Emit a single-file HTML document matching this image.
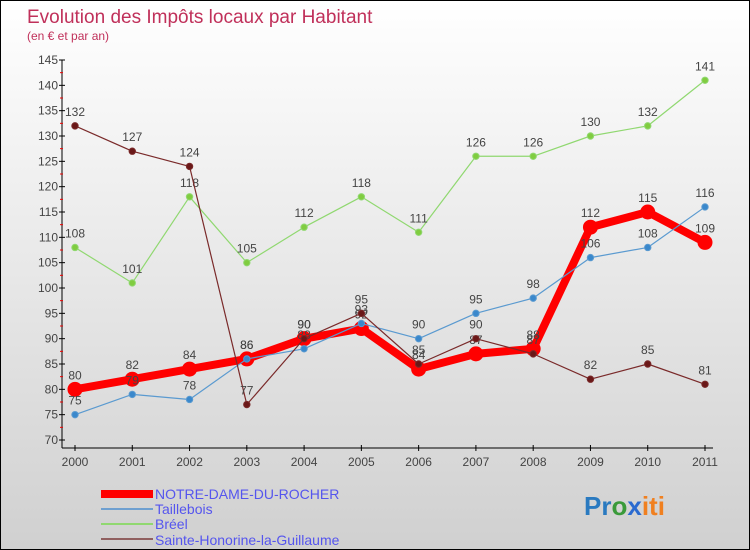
<!DOCTYPE html>
<html><head><meta charset="utf-8"><style>
html,body{margin:0;padding:0}
body{width:750px;height:550px;overflow:hidden;font-family:"Liberation Sans",sans-serif}
#wrap{position:relative;width:748px;height:548px;border:1px solid #000;background:linear-gradient(#ffffff,#d0d0d0)}
</style></head><body>
<div id="wrap">
<svg id="chart" width="748" height="548" style="position:absolute;left:0;top:0">
<text x="26" y="22" font-size="19" fill="#c0305a">Evolution des Impôts locaux par Habitant</text>
<text x="26" y="39" font-size="12" fill="#c0305a">(en € et par an)</text>
<g id="axes"></g><g id="series"></g>
<g>
<rect x="100" y="489" width="52" height="8" fill="#f00"/>
<text x="154" y="498" font-size="14" fill="#5555ee">NOTRE-DAME-DU-ROCHER</text>
<rect x="100" y="507" width="52" height="2" fill="#6fa0d0"/>
<text x="154" y="513" font-size="14" fill="#5555ee">Taillebois</text>
<rect x="100" y="522" width="52" height="2" fill="#90d870"/>
<text x="154" y="528" font-size="14" fill="#5555ee">Bréel</text>
<rect x="100" y="537" width="52" height="2" fill="#906060"/>
<text x="154" y="544" font-size="14" fill="#5555ee">Sainte-Honorine-la-Guillaume</text>
</g>
<text x="583" y="514" font-size="26" font-weight="bold"><tspan fill="#2a7ac0">Pr</tspan><tspan fill="#3a9a3a">o</tspan><tspan fill="#2a6ad0">x</tspan><tspan fill="#f08020">iti</tspan></text>
</svg>
</div>
<script>
const years=["2000","2001","2002","2003","2004","2005","2006","2007","2008","2009","2010","2011"];
const yTicks=[70,75,80,85,90,95,100,105,110,115,120,125,130,135,140,145];
const notreDame=[80,82,84,86,90,92,84,87,88,112,115,109];
const taillebois=[75,79,78,86,88,93,90,95,98,106,108,116];
const breel=[108,101,118,105,112,118,111,126,126,130,132,141];
const sainteHonorine=[132,127,124,77,90,95,85,90,87,82,85,81];
const NS="http://www.w3.org/2000/svg";
const xS=i=>74+i*(630/11);
const yS=v=>439-(v-70)*(380/75);
function mk(tag,attrs,parent){const e=document.createElementNS(NS,tag);for(const k in attrs)e.setAttribute(k,attrs[k]);parent.appendChild(e);return e;}
const ax=document.getElementById('axes');
let a=mk('line',{x1:61,y1:yS(145),x2:61,y2:yS(70)+8,stroke:'#000'},ax);


a=mk('line',{x1:61,y1:yS(70)+8,x2:712,y2:yS(70)+8,stroke:'#000'},ax);


yTicks.forEach(v=>{
 const y=yS(v);
 mk('line',{x1:58,y1:y,x2:64,y2:y,stroke:'#000'},ax);
 if(v<145){const m=mk('line',{x1:59,y1:y-2.5*380/75,x2:62,y2:y-2.5*380/75,stroke:'#e00'},ax);}
 const t=mk('text',{x:57,y:y+4,'font-size':12,fill:'#444','text-anchor':'end'},ax);
 t.textContent=v;
 
 
});
years.forEach((yr,i)=>{
 const x=xS(i);
 mk('line',{x1:x,y1:yS(70)+5,x2:x,y2:yS(70)+11,stroke:'#000'},ax);
 const t=mk('text',{x:x,y:465,'font-size':12,fill:'#444','text-anchor':'middle'},ax);
 t.textContent=yr;
 
 
});
const sg=document.getElementById('series');
function draw(data,color,width,r,dot,name){
 const g=mk('g',{},sg);
 
 
 const p=mk('polyline',{points:data.map((v,i)=>xS(i)+','+yS(v)).join(' '),fill:'none',stroke:color,'stroke-width':width,'stroke-linejoin':'round'},g);
 
 
 data.forEach((v,i)=>{
  const c=mk('circle',{cx:xS(i),cy:yS(v),r:r,fill:dot,stroke:color,'stroke-width':1},g);
  
  
  const t=mk('text',{x:xS(i),y:yS(v)-10,'font-size':12,fill:'#444','text-anchor':'middle'},g);
  t.textContent=v;
  
  
 });
}
draw(notreDame,'#f00',8,7,'#f00','notre-dame-series');
draw(taillebois,'#5a9ad0',1.2,3.2,'#3a88cc','taillebois-series');
draw(breel,'#90d870',1.2,3.2,'#80cc40','breel-series');
draw(sainteHonorine,'#7a2a2a',1.2,3.2,'#6a1818','sainte-honorine-series');
</script>
</body></html>
